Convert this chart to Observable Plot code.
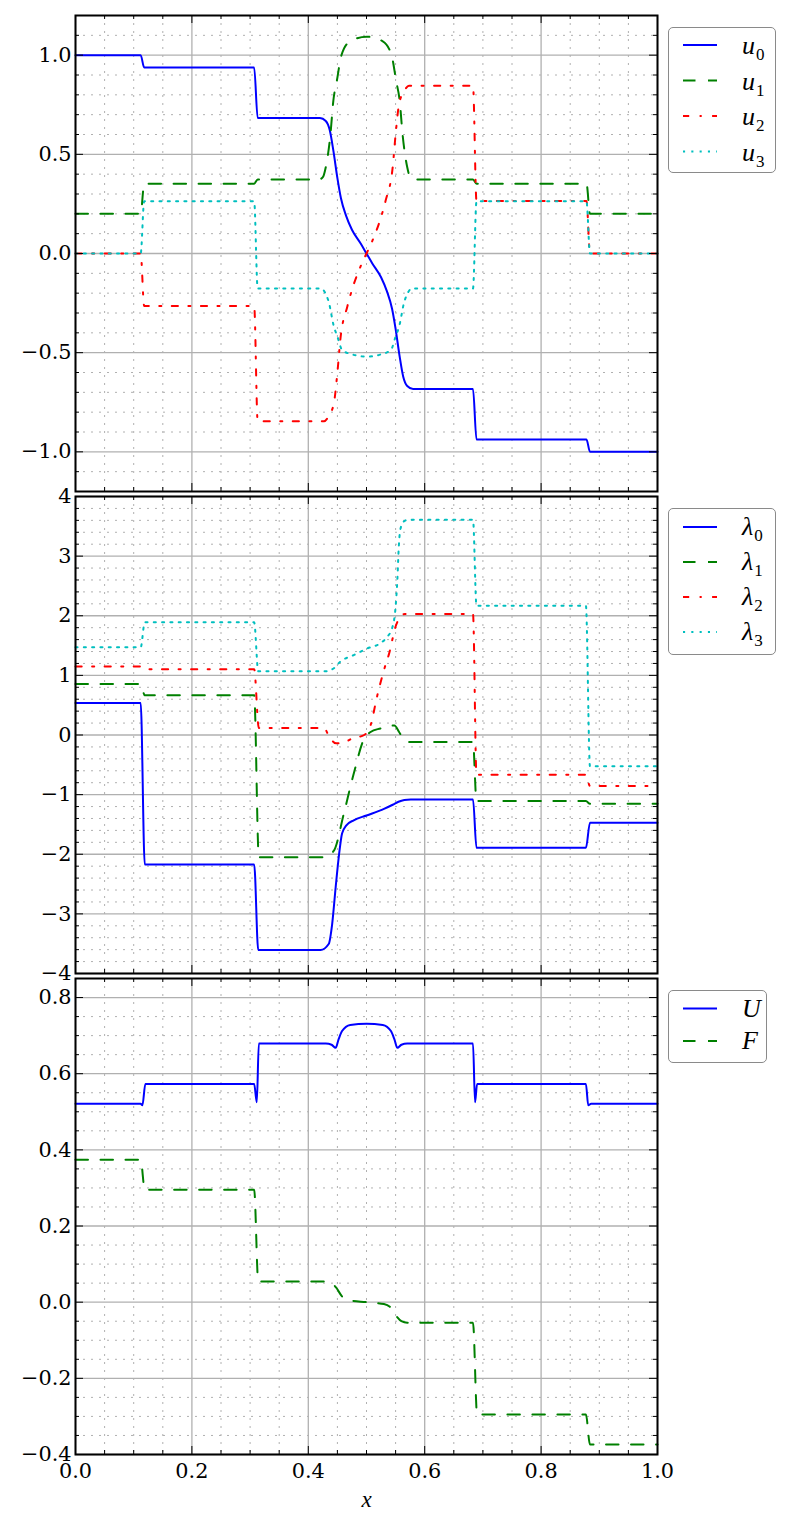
<!DOCTYPE html>
<html><head><meta charset="utf-8">
<script src="https://cdn.jsdelivr.net/npm/d3@7"></script>
<script src="https://cdn.jsdelivr.net/npm/@observablehq/plot@0.6"></script>
<style>
body{margin:0;background:#fff;}
#root{position:relative;width:791px;height:1534px;overflow:hidden;background:#fff;}
svg.panel{position:absolute;left:0;max-width:none !important;}
svg.panel text{font-family:"DejaVu Serif" !important;font-size:20.8px !important;}
svg.panel text.xlab{font-family:"Liberation Serif" !important;font-size:23px !important;font-style:italic;}
.legend{position:absolute;border:1.5px solid #8a8a8a;border-radius:5px;background:#fff;box-sizing:border-box;}
.legend svg{position:absolute;left:-1.5px;top:-1.5px;overflow:visible;}
</style></head><body><div id="root"></div>
<script>
// ---------- data ----------
const u0X = [0, 0.112, 0.118, 0.307, 0.313, 0.42, 0.43, 0.437, 0.443, 0.45, 0.456, 0.465, 0.475, 0.49, 0.5, 0.51, 0.525, 0.535, 0.544, 0.55, 0.557, 0.563, 0.57, 0.58, 0.683, 0.689, 0.878, 0.884, 1];
const u0Y = [1.0, 1.0, 0.938, 0.938, 0.683, 0.683, 0.668, 0.62, 0.52, 0.38, 0.28, 0.19, 0.12, 0.05, 0.0, -0.05, -0.12, -0.19, -0.28, -0.38, -0.52, -0.62, -0.668, -0.683, -0.683, -0.938, -0.938, -1.0, -1.0];
const u1X = [0, 0.112, 0.118, 0.307, 0.313, 0.418, 0.425, 0.43, 0.438, 0.443, 0.449, 0.457, 0.472, 0.5, 0.528, 0.543, 0.551, 0.557, 0.562, 0.57, 0.575, 0.582, 0.683, 0.689, 0.878, 0.884, 1];
const u1Y = [0.2, 0.2, 0.352, 0.352, 0.373, 0.373, 0.385, 0.435, 0.6, 0.77, 0.87, 1.0, 1.07, 1.093, 1.07, 1.0, 0.87, 0.77, 0.6, 0.435, 0.385, 0.373, 0.373, 0.352, 0.352, 0.2, 0.2];
const u2X = [0, 0.112, 0.118, 0.307, 0.313, 0.427, 0.435, 0.444, 0.45, 0.455, 0.467, 0.475, 0.492, 0.5, 0.508, 0.525, 0.533, 0.545, 0.55, 0.556, 0.565, 0.573, 0.683, 0.689, 0.878, 0.884, 1];
const u2Y = [0, 0, -0.265, -0.265, -0.846, -0.846, -0.82, -0.754, -0.6, -0.435, -0.268, -0.184, -0.05, 0, 0.05, 0.184, 0.268, 0.435, 0.6, 0.754, 0.82, 0.846, 0.846, 0.265, 0.265, 0, 0];
const u3X = [0, 0.112, 0.118, 0.307, 0.313, 0.421, 0.435, 0.444, 0.45, 0.458, 0.478, 0.5, 0.522, 0.542, 0.55, 0.556, 0.565, 0.579, 0.683, 0.689, 0.878, 0.884, 1];
const u3Y = [0, 0, 0.263, 0.263, -0.176, -0.176, -0.243, -0.369, -0.419, -0.486, -0.511, -0.52, -0.511, -0.486, -0.419, -0.369, -0.243, -0.176, -0.176, 0.263, 0.263, 0, 0];

const l0X = [0, 0.112, 0.119, 0.307, 0.314, 0.421, 0.435, 0.441, 0.447, 0.453, 0.458, 0.465, 0.478, 0.5, 0.53, 0.545, 0.555, 0.565, 0.576, 0.683, 0.689, 0.877, 0.884, 1];
const l0Y = [0.538, 0.538, -2.17, -2.17, -3.607, -3.607, -3.506, -3.17, -2.555, -1.99, -1.65, -1.52, -1.43, -1.35, -1.24, -1.17, -1.12, -1.09, -1.08, -1.08, -1.893, -1.893, -1.472, -1.472];
const l1X = [0, 0.112, 0.119, 0.307, 0.315, 0.427, 0.444, 0.461, 0.478, 0.496, 0.507, 0.524, 0.54, 0.548, 0.556, 0.565, 0.575, 0.683, 0.689, 0.877, 0.884, 1];
const l1Y = [0.857, 0.857, 0.667, 0.667, -2.05, -2.05, -1.94, -1.32, -0.65, -0.06, 0.05, 0.11, 0.15, 0.16, 0.05, -0.09, -0.118, -0.118, -1.109, -1.109, -1.153, -1.153];
const l2X = [0, 0.112, 0.119, 0.307, 0.315, 0.427, 0.436, 0.448, 0.46, 0.475, 0.496, 0.507, 0.518, 0.53, 0.539, 0.55, 0.558, 0.566, 0.683, 0.689, 0.877, 0.884, 1];
const l2Y = [1.15, 1.15, 1.104, 1.104, 0.118, 0.118, -0.03, -0.14, -0.13, -0.06, 0.0, 0.163, 0.64, 1.09, 1.37, 1.82, 1.98, 2.03, 2.03, -0.666, -0.666, -0.857, -0.857];
const l3X = [0, 0.112, 0.119, 0.307, 0.314, 0.43, 0.444, 0.455, 0.478, 0.501, 0.524, 0.536, 0.544, 0.55, 0.553, 0.5555, 0.558, 0.564, 0.572, 0.683, 0.689, 0.877, 0.884, 1];
const l3Y = [1.47, 1.47, 1.889, 1.889, 1.07, 1.07, 1.12, 1.23, 1.34, 1.45, 1.54, 1.65, 1.79, 2.15, 2.6, 3.16, 3.44, 3.58, 3.61, 3.61, 2.168, 2.168, -0.526, -0.526];

const UX = [0, 0.112, 0.115, 0.12, 0.307, 0.3115, 0.315, 0.43, 0.44, 0.447, 0.452, 0.458, 0.472, 0.5, 0.528, 0.542, 0.548, 0.553, 0.56, 0.57, 0.683, 0.6865, 0.69, 0.877, 0.881, 0.886, 1];
const UY = [0.521, 0.521, 0.517, 0.573, 0.573, 0.525, 0.679, 0.679, 0.676, 0.668, 0.69, 0.712, 0.728, 0.731, 0.728, 0.712, 0.69, 0.668, 0.676, 0.679, 0.679, 0.525, 0.573, 0.573, 0.517, 0.521, 0.521];
const FX = [0, 0.112, 0.119, 0.307, 0.314, 0.43, 0.44, 0.448, 0.458, 0.47, 0.5, 0.53, 0.542, 0.552, 0.56, 0.57, 0.683, 0.69, 0.877, 0.884, 1];
const FY = [0.374, 0.374, 0.295, 0.295, 0.054, 0.054, 0.05, 0.038, 0.015, 0.005, 0, -0.005, -0.015, -0.038, -0.05, -0.054, -0.054, -0.295, -0.295, -0.374, -0.374];

// tick values
const xMajor = [0, 0.2, 0.4, 0.6, 0.8, 1.0];
const p1Major = [-1.0, -0.5, 0.0, 0.5, 1.0];
const p2Major = [-4, -3, -2, -1, 0, 1, 2, 3, 4];
const p3Major = [-0.4, -0.2, 0.0, 0.2, 0.4, 0.6, 0.8];

// ---------- styles ----------
const BLUE = "#0000ff", GREEN = "#008000", RED = "#ff0000", CYAN = "#00bfbf";
const SOLID = null, DASHED = "12.5,12.5", DASHDOT = "6.2,10.4,2.1,10.4", DOTTED = "2.1,6.2";
const GRID = "#b0b0b0";
const W = 791, ML = 75, MR = 134, PW = W - ML - MR;
const FONT = "DejaVu Serif";

function minorOf(lo, hi, step, major) {
  const n = Math.round((hi - lo) / step);
  const out = [];
  for (let i = 0; i <= n; i++) {
    const v = +(lo + i * step).toFixed(4);
    if (!major.some(m => Math.abs(m - v) < 1e-6)) out.push(v);
  }
  return out;
}
const xMinor = minorOf(0, 1, 0.05, xMajor);

function rows(xs, ys) { return xs.map((x, i) => ({x, y: ys[i]})); }

function panel({series, yDomain, yMajor, yMinor, yFormat, top, marginTop, innerH, marginBottom, bottomAxis}) {
  const H = marginTop + innerH + marginBottom;
  const marks = [
    Plot.gridX(xMinor, {stroke: GRID, strokeOpacity: 1, strokeWidth: 1, strokeDasharray: "2,6"}),
    Plot.gridY(yMinor, {stroke: GRID, strokeOpacity: 1, strokeWidth: 1, strokeDasharray: "2,6"}),
    Plot.gridX(xMajor, {stroke: GRID, strokeOpacity: 1, strokeWidth: 1.3}),
    Plot.gridY(yMajor, {stroke: GRID, strokeOpacity: 1, strokeWidth: 1.3}),
    ...series.map(s => Plot.line(rows(s.x, s.y), {x: "x", y: "y", stroke: s.color, strokeWidth: 2, strokeDasharray: s.dash, curve: "monotone-x"})),
    // inward ticks on all four sides
    Plot.ruleY(yMajor, {stroke: "#000", strokeWidth: 1, insetRight: PW - 8}),
    Plot.ruleY(yMajor, {stroke: "#000", strokeWidth: 1, insetLeft: PW - 8}),
    Plot.ruleY(yMinor, {stroke: "#000", strokeWidth: 1, insetRight: PW - 4}),
    Plot.ruleY(yMinor, {stroke: "#000", strokeWidth: 1, insetLeft: PW - 4}),
    Plot.ruleX(xMajor, {stroke: "#000", strokeWidth: 1, insetBottom: innerH - 8}),
    Plot.ruleX(xMajor, {stroke: "#000", strokeWidth: 1, insetTop: innerH - 8}),
    Plot.ruleX(xMinor, {stroke: "#000", strokeWidth: 1, insetBottom: innerH - 4}),
    Plot.ruleX(xMinor, {stroke: "#000", strokeWidth: 1, insetTop: innerH - 4}),
    Plot.frame({stroke: "#000", strokeWidth: 2}),
    Plot.axisY(yMajor, {tickSize: 0, tickPadding: 4, tickFormat: yFormat, fontSize: 20.8, fontFamily: FONT, label: null})
  ];
  if (bottomAxis) {
    marks.push(Plot.axisX(xMajor, {tickSize: 0, tickPadding: 9, tickFormat: d3.format(".1f"), fontSize: 20.8, fontFamily: FONT, label: null}));
    marks.push(Plot.text(["x"], {text: d => d, frameAnchor: "bottom", dy: 52, fontStyle: "italic", fontSize: 23, fontFamily: "Liberation Serif", fill: "#000"}));
  }
  const svg = Plot.plot({
    width: W, height: H,
    marginLeft: ML, marginRight: MR, marginTop, marginBottom,
    style: {fontFamily: FONT, fontSize: "20.8px", background: "transparent", color: "#000", overflow: "visible"},
    x: bottomAxis ? {domain: [0, 1], label: null} : {domain: [0, 1], axis: null},
    y: {domain: yDomain, label: null},
    marks
  });
  svg.classList.add("panel");
  svg.style.position = "absolute";
  svg.style.top = top + "px";
  svg.style.left = "0px";
  svg.querySelectorAll("text").forEach(t => {
    if (t.textContent === "x") t.classList.add("xlab");
  });
  return svg;
}

function legend({left, top, width, height, items, rowStart, rowStep, baseOff}) {
  const div = document.createElement("div");
  div.className = "legend";
  Object.assign(div.style, {left: left + "px", top: top + "px", width: width + "px", height: height + "px"});
  const ns = "http://www.w3.org/2000/svg";
  const svg = document.createElementNS(ns, "svg");
  svg.setAttribute("width", width); svg.setAttribute("height", height);
  items.forEach((it, i) => {
    const y = rowStart + i * rowStep;
    const ln = document.createElementNS(ns, "line");
    ln.setAttribute("x1", 15); ln.setAttribute("x2", 49);
    ln.setAttribute("y1", y); ln.setAttribute("y2", y);
    ln.setAttribute("stroke", it.color); ln.setAttribute("stroke-width", 2);
    if (it.dash) ln.setAttribute("stroke-dasharray", it.dash);
    svg.appendChild(ln);
    const t = document.createElementNS(ns, "text");
    t.setAttribute("x", 74); t.setAttribute("y", y + baseOff);
    t.setAttribute("font-family", "Liberation Serif");
    t.setAttribute("font-style", "italic");
    t.setAttribute("font-size", 26);
    t.appendChild(document.createTextNode(it.sym));
    if (it.sub != null) {
      const s = document.createElementNS(ns, "tspan");
      s.setAttribute("font-style", "normal");
      s.setAttribute("font-size", 17);
      s.setAttribute("dy", 6);
      s.setAttribute("dx", 1);
      s.textContent = it.sub;
      t.appendChild(s);
    }
    svg.appendChild(t);
  });
  div.appendChild(svg);
  return div;
}

const root = document.getElementById("root");

root.appendChild(panel({
  series: [
    {x: u0X, y: u0Y, color: BLUE, dash: SOLID},
    {x: u1X, y: u1Y, color: GREEN, dash: DASHED},
    {x: u2X, y: u2Y, color: RED, dash: DASHDOT},
    {x: u3X, y: u3Y, color: CYAN, dash: DOTTED}
  ],
  yDomain: [-1.2, 1.2], yMajor: p1Major, yMinor: minorOf(-1.2, 1.2, 0.1, p1Major), yFormat: d3.format(".1f"),
  top: 0, marginTop: 15, innerH: 476, marginBottom: 3, bottomAxis: false
}));
root.appendChild(panel({
  series: [
    {x: l0X, y: l0Y, color: BLUE, dash: SOLID},
    {x: l1X, y: l1Y, color: GREEN, dash: DASHED},
    {x: l2X, y: l2Y, color: RED, dash: DASHDOT},
    {x: l3X, y: l3Y, color: CYAN, dash: DOTTED}
  ],
  yDomain: [-4, 4], yMajor: p2Major, yMinor: minorOf(-4, 4, 0.2, p2Major), yFormat: d3.format("d"),
  top: 491, marginTop: 5, innerH: 477, marginBottom: 3, bottomAxis: false
}));
root.appendChild(panel({
  series: [
    {x: UX, y: UY, color: BLUE, dash: SOLID},
    {x: FX, y: FY, color: GREEN, dash: DASHED}
  ],
  yDomain: [-0.4, 0.85], yMajor: p3Major, yMinor: minorOf(-0.4, 0.85, 0.05, p3Major), yFormat: d3.format(".1f"),
  top: 973, marginTop: 5, innerH: 476, marginBottom: 80, bottomAxis: true
}));

root.appendChild(legend({left: 668, top: 27, width: 108, height: 146, rowStart: 18, rowStep: 35.5, baseOff: 9,
  items: [
    {sym: "u", sub: "0", color: BLUE, dash: SOLID},
    {sym: "u", sub: "1", color: GREEN, dash: DASHED},
    {sym: "u", sub: "2", color: RED, dash: DASHDOT},
    {sym: "u", sub: "3", color: CYAN, dash: DOTTED}
  ]}));
root.appendChild(legend({left: 668, top: 508, width: 108, height: 147, rowStart: 19, rowStep: 35, baseOff: 8,
  items: [
    {sym: "λ", sub: "0", color: BLUE, dash: SOLID},
    {sym: "λ", sub: "1", color: GREEN, dash: DASHED},
    {sym: "λ", sub: "2", color: RED, dash: DASHDOT},
    {sym: "λ", sub: "3", color: CYAN, dash: DOTTED}
  ]}));
root.appendChild(legend({left: 668, top: 990, width: 99, height: 73, rowStart: 18.5, rowStep: 32.5, baseOff: 8,
  items: [
    {sym: "U", sub: null, color: BLUE, dash: SOLID},
    {sym: "F", sub: null, color: GREEN, dash: DASHED}
  ]}));
</script></body></html>
